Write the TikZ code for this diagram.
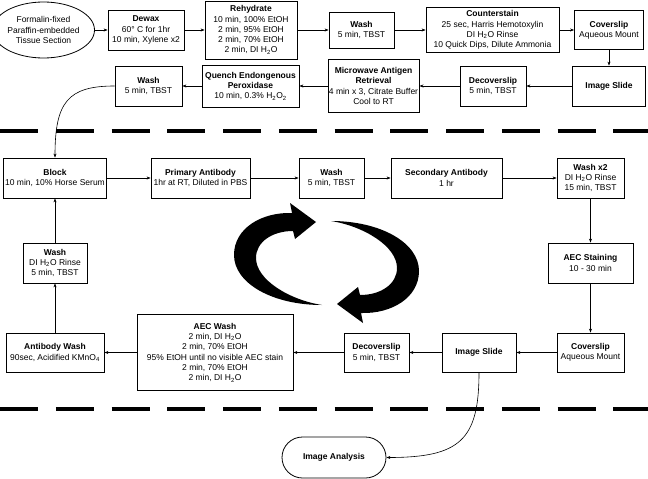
\documentclass[tikz,border=0pt]{standalone}
\usepackage{fontspec}
\setmainfont{Liberation Sans}
\usetikzlibrary{shapes.misc, shapes.geometric, arrows.meta}

\begin{document}
\begin{tikzpicture}[x=1pt, y=1pt, >={Stealth[length=4pt, width=3pt]},
	every node/.style={font=\fontsize{8.5}{10.3}\selectfont, align=center, inner sep=1pt},
	box/.style 2 args={draw, line width=0.8pt, minimum width=#1, minimum height=#2},
	flow/.style={->, line width=0.6pt},
	sep/.style={line width=4pt, dash pattern=on 38pt off 17.75pt}]
	\useasboundingbox (0,0) rectangle (648,-479);
	\node[draw, ellipse, line width=0.8pt, minimum width=83pt, minimum height=56pt, inner sep=0pt] (tissue) at (43.5,-30) {Formalin-fixed\\Paraffin-embedded\\Tissue Section};
	\node[box={76pt}{40pt}] (dewax) at (146,-30) {\textbf{Dewax}\\60° C for 1hr\\10 min, Xylene x2};
	\node[box={92pt}{58pt}] (rehyd) at (251,-30) {\textbf{Rehydrate}\\10 min, 100\% EtOH\\2 min, 95\% EtOH\\2 min, 70\% EtOH\\2 min, DI H\textsubscript{2}O};
	\node[box={65pt}{36pt}] (washA) at (361.5,-30) {\textbf{Wash}\\5 min, TBST};
	\node[box={133pt}{45pt}] (counter) at (492.5,-30) {\textbf{Counterstain}\\25 sec, Harris Hemotoxylin\\DI H\textsubscript{2}O Rinse\\10 Quick Dips, Dilute Ammonia};
	\node[box={69pt}{39pt}] (coverA) at (609,-30) {\textbf{Coverslip}\\Aqueous Mount};
	\node[box={73pt}{40pt}] (slideA) at (609,-86) {\textbf{Image Slide}};
	\node[box={66pt}{40pt}] (decoverA) at (493,-86) {\textbf{Decoverslip}\\5 min, TBST};
	\node[box={91pt}{53pt}] (micro) at (373.5,-86) {\textbf{Microwave Antigen}\\\textbf{Retrieval}\\4 min x 3, Citrate Buffer\\Cool to RT};
	\node[box={97pt}{42pt}] (quench) at (250.5,-86) {\textbf{Quench Endongenous}\\\textbf{Peroxidase}\\10 min, 0.3\% H\textsubscript{2}O\textsubscript{2}};
	\node[box={67pt}{40pt}] (washB) at (148.5,-86) {\textbf{Wash}\\5 min, TBST};
	\node[box={103pt}{40pt}] (block) at (55,-178) {\textbf{Block}\\10 min, 10\% Horse Serum};
	\node[box={99pt}{40pt}] (primary) at (200.5,-178) {\textbf{Primary Antibody}\\1hr at RT, Diluted in PBS};
	\node[box={65pt}{40pt}] (washC) at (331.5,-178) {\textbf{Wash}\\5 min, TBST};
	\node[box={111pt}{40pt}] (second) at (446.5,-178) {\textbf{Secondary Antibody}\\1 hr};
	\node[box={67pt}{40pt}] (washX) at (590.5,-178) {\textbf{Wash x2}\\DI H\textsubscript{2}O Rinse\\15 min, TBST};
	\node[box={64pt}{40pt}] (washD) at (55,-263) {\textbf{Wash}\\DI H\textsubscript{2}O Rinse\\5 min, TBST};
	\node[box={85pt}{40pt}] (aecStain) at (590.5,-263) {\textbf{AEC Staining}\\10 - 30 min};
	\node[box={98pt}{39pt}] (abWash) at (55,-352.5) {\textbf{Antibody Wash}\\90sec, Acidified KMnO\textsubscript{4}};
	\node[box={156pt}{76pt}] (aecWash) at (215,-352.5) {\textbf{AEC Wash}\\2 min, DI H\textsubscript{2}O\\2 min, 70\% EtOH\\95\% EtOH until no visible AEC stain\\2 min, 70\% EtOH\\2 min, DI H\textsubscript{2}O};
	\node[box={65pt}{39pt}] (decoverB) at (376.5,-352.5) {\textbf{Decoverslip}\\5 min, TBST};
	\node[box={74pt}{39pt}] (slideB) at (479,-352.5) {\textbf{Image Slide}};
	\node[box={67pt}{39pt}] (coverB) at (590.5,-352.5) {\textbf{Coverslip}\\Aqueous Mount};
	\node[draw, rounded rectangle, line width=0.8pt, minimum width=106pt, minimum height=41pt] (analysis) at (334,-457.5) {\textbf{Image Analysis}};
	\draw[sep] (0,-131) -- (648,-131);
	\draw[sep] (0,-409) -- (648,-409);
	\draw[flow] (tissue) -- (dewax);
	\draw[flow] (dewax) -- (rehyd);
	\draw[flow] (rehyd) -- (washA);
	\draw[flow] (washA) -- (counter);
	\draw[flow] (counter) -- (coverA);
	\draw[flow] (coverA) -- (slideA);
	\draw[flow] (slideA) -- (decoverA);
	\draw[flow] (decoverA) -- (micro);
	\draw[flow] (micro) -- (quench);
	\draw[flow] (quench) -- (washB);
	\draw[flow] (washB.west) .. controls (68,-86) and (55,-102) .. (block.north);
	\draw[flow] (block) -- (primary);
	\draw[flow] (primary) -- (washC);
	\draw[flow] (washC) -- (second);
	\draw[flow] (second) -- (washX);
	\draw[flow] (washX) -- (aecStain);
	\draw[flow] (aecStain) -- (coverB);
	\draw[flow] (coverB) -- (slideB);
	\draw[flow] (slideB) -- (decoverB);
	\draw[flow] (decoverB) -- (aecWash);
	\draw[flow] (aecWash) -- (abWash);
	\draw[flow] (abWash) -- (washD);
	\draw[flow] (washD) -- (block);
	\draw[flow] (slideB.south) .. controls (479,-440) and (460,-457.5) .. (analysis.east);
	\foreach \r in {0,180}
		\fill[rotate around={\r:(326.5,-263)}] (322,-305) .. controls (272,-305) and (234,-283) .. (234,-255) .. controls (234,-228) and (262,-212) .. (292,-213) -- (290,-203) -- (316,-222) -- (295,-239) -- (293,-231) .. controls (272,-231) and (256,-242) .. (256,-258) .. controls (256,-280) and (290,-300) .. cycle;
\end{tikzpicture}
\end{document}
